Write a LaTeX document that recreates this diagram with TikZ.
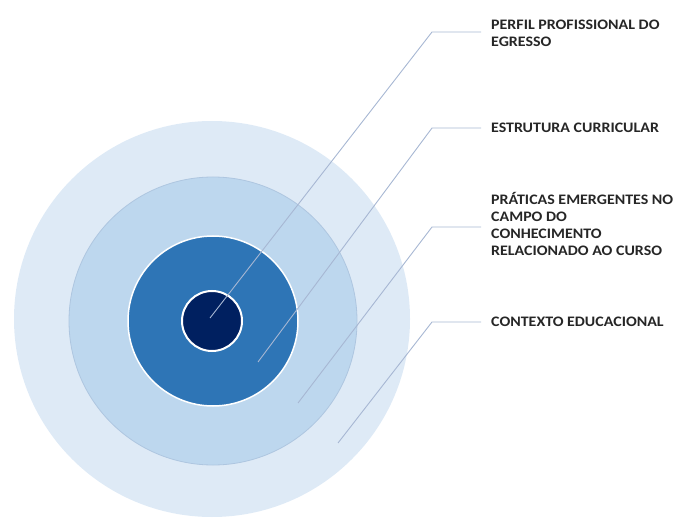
\documentclass[tikz,border=0pt]{standalone}
\usepackage{fontspec}
\setmainfont{Carlito}
\usepackage{xcolor}
\usetikzlibrary{calc}
\definecolor{outerbg}{HTML}{DEEAF6}
\definecolor{secondbg}{HTML}{BDD7EE}
\definecolor{secondrim}{HTML}{AEC6E0}
\definecolor{midbg}{HTML}{2E75B6}
\definecolor{corebg}{HTML}{002060}
\definecolor{leader}{HTML}{A7B7D3}
\definecolor{labtext}{HTML}{262626}
\newfontfamily\labfont[FakeStretch=1.1]{Carlito}
\tikzset{
  ring/.style={circle, inner sep=0pt, minimum size=#1},
  leaderline/.style={draw=leader, line width=0.9pt},
  lab/.style={anchor=west, align=left, inner sep=0pt, text=labtext,
    font=\labfont\bfseries\fontsize{14.5}{16.7}\selectfont}
}

\begin{document}
\begin{tikzpicture}[x=1pt, y=-1pt]
  \useasboundingbox (0,0) rectangle (676,518);

  % target rings
  \node[ring=396pt, fill=outerbg] (contexto) at (212,319) {};
  \node[ring=288pt, fill=secondbg, draw=secondrim, line width=0.8pt] (praticas) at (213,321) {};
  \node[ring=170pt, fill=midbg, draw=white, line width=1.5pt] (estrutura) at (213,321) {};
  \node[ring=60pt, fill=corebg, draw=white, line width=2pt] (perfil) at (212,321) {};

  % leader start points and elbows
  \coordinate (s1) at (210,318);
  \coordinate (s2) at (258,362);
  \coordinate (s3) at (298,403);
  \coordinate (s4) at (338,443);
  \coordinate (e1) at (432,32);
  \coordinate (e2) at (432,128);
  \coordinate (e3) at (432,227);
  \coordinate (e4) at (432,322);

  \node[lab] (l1) at (491,33) {PERFIL PROFISSIONAL DO\\EGRESSO};
  \node[lab] (l2) at (491,128) {ESTRUTURA CURRICULAR};
  \node[lab] (l3) at (491,224) {PRÁTICAS EMERGENTES NO\\CAMPO DO\\CONHECIMENTO\\RELACIONADO AO CURSO};
  \node[lab] (l4) at (491,322) {CONTEXTO EDUCACIONAL};

  \draw[leaderline] (s1) -- (e1) -- ($(e1 -| l1.west)+(-10,0)$);
  \draw[leaderline] (s2) -- (e2) -- ($(e2 -| l2.west)+(-10,0)$);
  \draw[leaderline] (s3) -- (e3) -- ($(e3 -| l3.west)+(-10,0)$);
  \draw[leaderline] (s4) -- (e4) -- ($(e4 -| l4.west)+(-10,0)$);
\end{tikzpicture}
\end{document}
